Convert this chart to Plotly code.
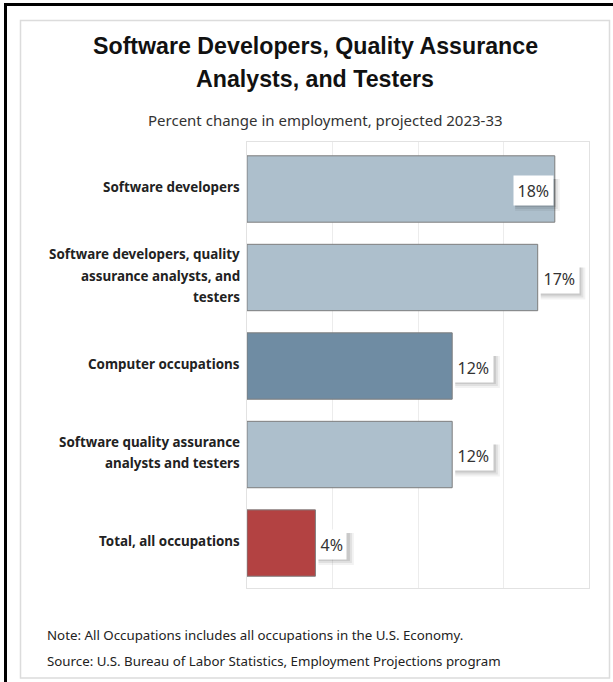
import plotly.graph_objects as go

# ---------------- data ----------------
categories = [
    "Software developers",
    "Software developers, quality<br>assurance analysts, and<br>testers",
    "Computer occupations",
    "Software quality assurance<br>analysts and testers",
    "Total, all occupations",
]
values = [18, 17, 12, 12, 4]
bar_colors = ["#adbfcc", "#adbfcc", "#6f8ca3", "#adbfcc", "#b34242"]
value_labels = ["18%", "17%", "12%", "12%", "4%"]

title_lines = ["Software Developers, Quality Assurance", "Analysts, and Testers"]
subtitle = "Percent change in employment, projected 2023-33"
note_lines = [
    "Note: All Occupations includes all occupations in the U.S. Economy.",
    "Source: U.S. Bureau of Labor Statistics, Employment Projections program",
]

# ---------------- layout geometry ----------------
W, H = 613, 682
PL, PR, PT, PB = 247, 589, 142, 588  # plot area pixels
XMAX = 20


def px(xp):
    return (xp - PL) / (PR - PL)


def py(yp):
    return (PB - yp) / (PB - PT)


cat_ids = list(range(len(categories)))

fig = go.Figure()
fig.add_trace(go.Bar(
    y=cat_ids, x=values, orientation="h",
    marker=dict(color=bar_colors, line=dict(color="#7d7d7d", width=1)),
    width=0.75, hoverinfo="skip",
))

annotations = []
shapes = []

# Title lines
for i, t in enumerate(title_lines):
    annotations.append(dict(
        text="<b>" + t + "</b>", xref="paper", yref="paper", x=px(315), y=py(46 + 33 * i),
        xanchor="center", yanchor="middle", showarrow=False,
        font=dict(family="Liberation Sans, Arial, sans-serif", size=23.2, color="#111111"),
    ))
# subtitle
annotations.append(dict(
    text=subtitle, xref="paper", yref="paper", x=px(325), y=py(120),
    xanchor="center", yanchor="middle", showarrow=False,
    font=dict(family="Noto Sans, sans-serif", size=15, color="#333333"),
))
# notes
for i, t in enumerate(note_lines):
    annotations.append(dict(
        text=t, xref="paper", yref="paper", x=px(45), y=py(635 + 26 * i),
        xanchor="left", yanchor="middle", showarrow=False,
        font=dict(family="Noto Sans, sans-serif", size=13.3, color="#222222"),
    ))

# category labels (per line for line spacing control)
LINE = 21.5
for cid, cat in zip(cat_ids, categories):
    lines = cat.split("<br>")
    n = len(lines)
    for i, ln in enumerate(lines):
        annotations.append(dict(
            text="<b>" + ln + "</b>", xref="paper", yref="y", x=px(242), y=cid,
            xanchor="right", yanchor="middle", showarrow=False,
            yshift=-(i - (n - 1) / 2) * LINE + 2,
            font=dict(family="Noto Sans, sans-serif", size=13.4, color="#222222"),
        ))

# value labels with soft shadow
unit_px = (PR - PL) / XMAX
PAD = 3.5
FS = 16
BOX_H = 28


def text_w(s):
    return sum((12.5 if ch == "%" else 8.6) * FS / 15 for ch in s)


for cid, v, lab in zip(cat_ids, values, value_labels):
    bw = text_w(lab) + 2 * (PAD + 1)
    end_px = PL + v * unit_px
    inside = end_px + bw + 3 > PR
    if inside:
        anchor, xs = "right", -1
        bx0, bx1 = xs - bw, xs
    else:
        anchor, xs = "left", 1
        bx0, bx1 = xs, xs + bw
    yc = -1
    by0, by1 = yc - BOX_H / 2, yc + BOX_H / 2
    for dx, dy, grow, col in [(4, -5, 2, "rgba(0,0,0,0.05)"),
                              (3, -4, 1, "rgba(0,0,0,0.07)"),
                              (2, -3, 0, "rgba(0,0,0,0.10)")]:
        shapes.append(dict(type="rect", xref="x", yref="y",
                           xsizemode="pixel", ysizemode="pixel",
                           xanchor=v, yanchor=cid,
                           x0=bx0 + dx - grow, x1=bx1 + dx + grow,
                           y0=by0 + dy - grow, y1=by1 + dy + grow,
                           line=dict(width=0), fillcolor=col, layer="above"))
    annotations.append(dict(xref="x", yref="y", x=v, y=cid, xanchor=anchor, yanchor="middle",
                            showarrow=False, text=lab, borderpad=PAD, xshift=xs, yshift=yc,
                            bgcolor="white",
                            font=dict(family="Noto Sans, sans-serif", size=FS, color="#333333")))

# inner light frame
shapes.append(dict(type="rect", xref="paper", yref="paper",
                   x0=px(20.5), x1=px(609.5), y0=py(20.5), y1=py(678),
                   line=dict(color="#dcdcdc", width=1.5), layer="below"))
# black outer border (top and left)
shapes.append(dict(type="line", xref="paper", yref="paper",
                   x0=px(4), x1=px(W), y0=py(4.5), y1=py(4.5),
                   line=dict(color="#000000", width=3)))
shapes.append(dict(type="line", xref="paper", yref="paper",
                   x0=px(5.5), x1=px(5.5), y0=py(3), y1=py(H),
                   line=dict(color="#000000", width=3)))

n = len(categories)
fig.update_layout(
    width=W, height=H,
    margin=dict(l=PL, r=W - PR, t=PT, b=H - PB),
    paper_bgcolor="white", plot_bgcolor="white",
    showlegend=False,
    annotations=annotations, shapes=shapes,
    xaxis=dict(range=[0, XMAX], dtick=5, showgrid=True, gridcolor="#ececec",
               showticklabels=False, zeroline=False, showline=True,
               linecolor="#e2e2e2", mirror=True, fixedrange=True, ticks=""),
    yaxis=dict(range=[n - 1 + 0.508, -0.531], tickvals=cat_ids,
               showticklabels=False, showgrid=False, zeroline=False,
               showline=True, linecolor="#e2e2e2", mirror=True, fixedrange=True, ticks=""),
)

fig.write_html("out.html", config={"displayModeBar": False})
